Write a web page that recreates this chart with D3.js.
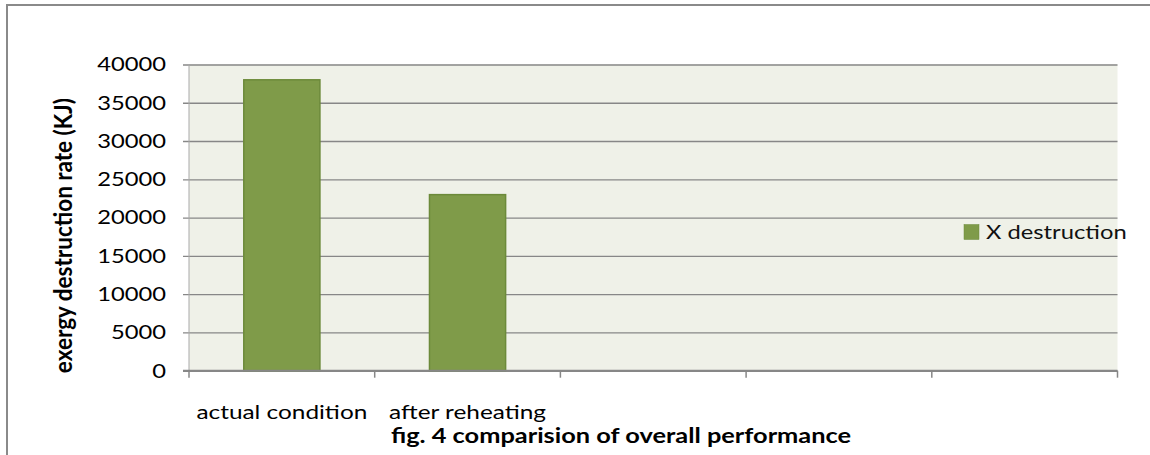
<!DOCTYPE html>
<html>
<head>
<meta charset="utf-8">
<script src="https://cdn.jsdelivr.net/npm/d3@7"></script>
<style>
  html, body { margin: 0; padding: 0; background: #fff; }
  svg { display: block; }
  text { font-family: Lato, "Open Sans", sans-serif; }
</style>
</head>
<body>
<svg id="chart" width="1150" height="455"></svg>
<script>
// ---- data ----
const categories = ["actual condition", "after reheating", "", "", ""];
const xDestruction = [38000, 23000, null, null, null];
const yTicks = [0, 5000, 10000, 15000, 20000, 25000, 30000, 35000, 40000];
const seriesName = "X destruction";
const yLabel = "exergy destruction rate (KJ)";
const title = "fig. 4 comparision of overall performance";

// ---- layout ----
const W = 1150, H = 455;
const plot = { left: 189, top: 64.5, right: 1117.5, bottom: 370.7 };
const SX = 1.25;          // horizontal stretch of the original image
const FS = 19;
const barFill = "#7f9b49", barStroke = "#6c8a3a";

const svg = d3.select("#chart");

// outer border (right/bottom run off the picture)
svg.append("rect").attr("x", 7).attr("y", 5).attr("width", 1200).attr("height", 500)
  .attr("fill", "none").attr("stroke", "#8a8a8a").attr("stroke-width", 2);

const x = d3.scaleBand().domain(d3.range(categories.length))
  .range([plot.left, plot.right]).paddingInner(0.59).paddingOuter(0.295);
const xb = d3.scaleBand().domain(d3.range(categories.length))
  .range([plot.left, plot.right]);
const y = d3.scaleLinear().domain([0, 40000]).range([plot.bottom, plot.top]);

// plot background
svg.append("rect").attr("x", plot.left).attr("y", plot.top)
  .attr("width", plot.right - plot.left).attr("height", plot.bottom - plot.top)
  .attr("fill", "#eff1e8");

// gridlines + y ticks
const yAxis = d3.axisLeft(y).tickValues(yTicks)
  .tickSize(-(plot.right - plot.left)).tickFormat("");
const gy = svg.append("g").attr("transform", `translate(${plot.left},0)`).call(yAxis);
gy.select(".domain").remove();
gy.selectAll(".tick line").attr("stroke", "#878787").attr("stroke-width", 1.4)
  .attr("x1", -6);
// left plot edge
svg.append("line").attr("x1", plot.left).attr("x2", plot.left)
  .attr("y1", plot.top).attr("y2", plot.bottom)
  .attr("stroke", "#a9a9a9").attr("stroke-width", 1);

// y tick labels
svg.append("g").selectAll("text").data(yTicks).join("text")
  .attr("transform", d => `translate(166,${y(d)}) scale(${SX},1)`)
  .attr("text-anchor", "end").attr("dy", "0.36em")
  .attr("font-size", FS).attr("fill", "#000")
  .text(d => d);

// bars
svg.append("g").selectAll("rect")
  .data(xDestruction.map((v, i) => ({ v, i })).filter(d => d.v != null))
  .join("rect")
  .attr("x", d => x(d.i)).attr("width", x.bandwidth())
  .attr("y", d => y(d.v)).attr("height", d => y(0) - y(d.v))
  .attr("fill", barFill).attr("stroke", barStroke).attr("stroke-width", 1.5);

// x axis
svg.append("line").attr("x1", plot.left - 6).attr("x2", plot.right)
  .attr("y1", plot.bottom).attr("y2", plot.bottom)
  .attr("stroke", "#878787").attr("stroke-width", 2);
const bounds = d3.range(categories.length + 1).map(i => i < categories.length ? xb(i) : plot.right);
svg.append("g").selectAll("line").data(bounds).join("line")
  .attr("x1", d => d).attr("x2", d => d)
  .attr("y1", plot.bottom).attr("y2", plot.bottom + 7)
  .attr("stroke", "#878787").attr("stroke-width", 1.5);

// category labels
svg.append("g").selectAll("text").data(categories).join("text")
  .attr("transform", (d, i) => `translate(${xb(i) + xb.bandwidth() / 2},419) scale(${SX},1)`)
  .attr("text-anchor", "middle").attr("font-size", 19.5).attr("fill", "#000")
  .text(d => d);

// y axis title
svg.append("text")
  .attr("transform", `translate(72,${(plot.top + plot.bottom) / 2 + 18}) scale(1.1,1) rotate(-90)`)
  .attr("text-anchor", "middle").attr("font-size", 22.5).attr("font-weight", "bold")
  .attr("fill", "#000").text(yLabel);

// chart title (bottom)
svg.append("text")
  .attr("transform", `translate(621,443) scale(${SX},1)`)
  .attr("text-anchor", "middle").attr("font-size", 20.3).attr("font-weight", "bold")
  .attr("fill", "#000").text(title);

// legend
const lg = svg.append("g");
lg.append("rect").attr("x", 964).attr("y", 224.5).attr("width", 15).attr("height", 15)
  .attr("fill", barFill).attr("stroke", barStroke).attr("stroke-width", 0.5);
lg.append("text").attr("transform", `translate(986,232) scale(${SX},1)`)
  .attr("dy", "0.36em").attr("font-size", FS).attr("fill", "#111").text(seriesName);
</script>
</body>
</html>
